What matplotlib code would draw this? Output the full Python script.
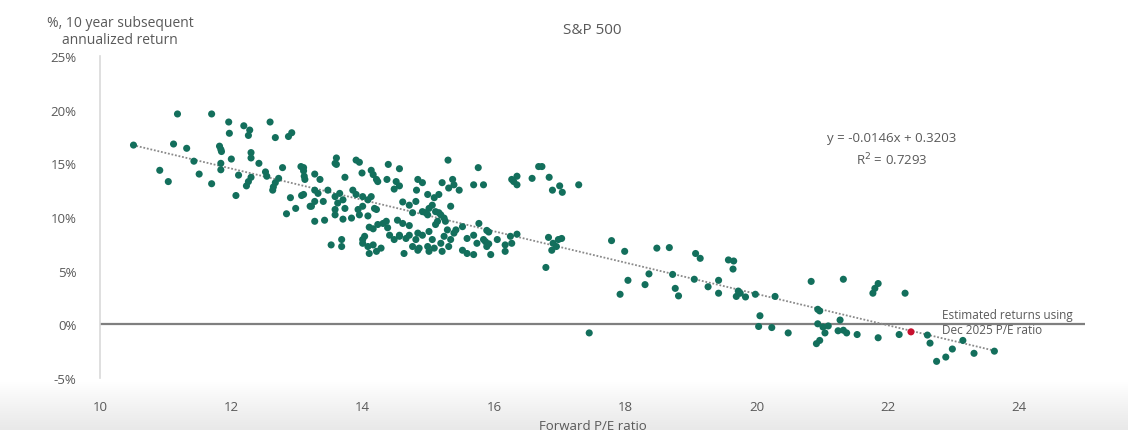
import numpy as np
import matplotlib
matplotlib.use('Agg')
import matplotlib.pyplot as plt
from matplotlib.colors import LinearSegmentedColormap

plt.rcParams['font.family'] = ['Open Sans', 'DejaVu Sans']

# forward P/E ratio and subsequent 10-year annualized return (%)
pe = [
    10.51, 10.91, 11.04, 11.12, 11.18, 11.32, 11.43, 11.51, 11.70, 11.70,
    11.82, 11.84, 11.85, 11.84, 11.84, 11.96, 11.97, 12.00, 12.07, 12.11,
    12.19, 12.28, 12.26, 12.30, 12.30, 12.42, 12.30, 12.26, 12.23, 12.52,
    12.54, 12.59, 12.67, 12.78, 12.72, 12.67, 12.64, 12.63, 12.87, 12.92,
    12.90, 12.98, 12.84, 13.07, 13.22, 13.10, 13.12,
    13.06, 13.10, 13.11, 13.27, 13.35, 13.60, 13.58, 13.60, 13.90, 13.95,
    14.39, 14.56, 15.30, 15.76, 13.73, 13.99, 14.13, 14.16, 14.21, 14.23,
    14.37, 14.51, 14.56, 14.48, 14.84, 14.91, 14.82, 15.21, 15.37, 15.39,
    15.31, 15.47, 15.69, 15.84,
    13.27, 13.32, 13.47, 13.40, 13.58, 13.65, 13.70, 13.62, 13.85, 13.90,
    14.00, 14.08, 14.13, 13.10, 13.27,
    13.20, 13.58, 13.73, 13.93, 14.00, 14.18, 13.27, 13.42, 13.58, 13.70,
    13.83, 13.95, 14.08, 14.21, 14.36, 14.53, 14.61, 14.71, 14.81, 14.91,
    14.99, 15.06, 15.11, 15.19, 15.24, 15.34, 15.14, 14.76, 14.71, 14.84,
    14.10, 14.16, 14.23, 14.31, 14.38,
    14.99, 15.09, 15.16, 15.01, 14.96, 15.16, 15.26, 15.11,
    14.00, 14.03, 14.00, 14.08, 14.16, 14.10, 14.21, 14.28, 14.41, 14.48,
    14.56, 14.66, 14.63, 14.76, 14.84, 14.99, 15.06, 15.09, 15.19, 15.24,
    15.29, 15.34, 15.42, 15.52, 15.59, 15.69, 15.74, 15.52, 15.59, 15.69,
    15.84, 15.89, 15.95, 15.92, 15.77, 13.52, 13.68, 13.68,
    14.61, 14.56, 14.71, 14.81, 14.91, 15.01, 15.39, 14.86, 15.01, 15.21,
    15.31, 16.05, 16.17, 16.17, 15.89, 15.87, 15.92,
    16.25, 16.27, 16.35, 16.83, 16.90, 16.98, 17.03, 16.88, 16.95, 16.79,
    16.30, 16.35, 16.35, 16.27, 16.58, 16.68, 16.73, 16.84, 16.89, 17.00,
    17.04, 17.29,
    17.45, 17.79, 17.99, 18.04, 17.92, 18.30, 18.36, 18.48, 18.67, 18.72,
    18.76, 18.81, 19.07, 19.14, 19.05, 19.26, 19.42, 19.42, 19.57, 19.65,
    19.64, 19.72, 19.69, 19.75, 19.83, 19.98, 20.28, 20.05, 20.03, 20.23,
    20.48, 20.83, 21.32, 21.77, 21.80, 21.85, 22.26, 20.93, 20.96, 20.93,
    21.01, 21.09, 21.04, 20.96, 20.91, 21.27, 21.24, 21.32, 21.37, 21.53,
    21.85, 22.17, 22.60, 22.64, 22.74, 22.88, 22.98, 23.14, 23.31, 23.62,
]
ret = [
    16.7, 14.35, 13.3, 16.8, 19.6, 16.4, 15.2, 14.0, 19.6, 13.1,
    16.6, 16.3, 16.1, 15.0, 14.4, 18.85, 17.8, 15.4, 12.0, 13.9,
    18.5, 18.1, 17.6, 16.0, 15.5, 15.0, 13.7, 13.3, 12.9, 14.2,
    13.8, 18.85, 17.4, 14.6, 13.6, 13.2, 12.8, 12.5, 17.5, 17.85,
    11.8, 10.8, 10.3, 12.0, 11.0, 14.6, 13.5,
    14.7, 14.3, 13.8, 14.0, 13.5, 15.5, 15.0, 14.9, 15.3, 15.1,
    14.9, 14.5, 15.3, 14.6, 13.7, 14.1, 14.35, 13.95, 13.5, 13.3,
    13.5, 13.3, 12.9, 12.6, 13.5, 13.2, 12.5, 13.2, 13.5, 13.0,
    12.7, 12.5, 13.0, 13.0,
    12.5, 12.2, 12.5, 11.45, 11.9, 12.2, 11.6, 11.3, 12.5, 12.1,
    11.9, 11.6, 11.9, 12.1, 11.45,
    11.0, 10.7, 10.8, 10.7, 11.0, 10.8, 9.6, 9.7, 10.2, 9.8,
    9.9, 10.2, 10.1, 10.7, 9.6, 9.7, 11.4, 11.1, 11.45, 10.5,
    10.2, 11.1, 10.5, 10.2, 9.9, 11.0, 9.6, 10.4, 9.2, 8.5,
    9.05, 8.9, 9.3, 9.4, 9.0,
    12.1, 11.8, 12.1, 10.8, 10.4, 10.4, 9.6, 9.3,
    7.9, 8.2, 7.55, 7.25, 7.4, 6.6, 6.8, 7.1, 8.3, 7.9,
    8.2, 8.0, 6.6, 7.25, 6.9, 7.25, 7.9, 7.1, 7.55, 8.2,
    8.8, 7.9, 8.8, 9.1, 8.0, 8.3, 7.55, 6.9, 6.6, 6.5,
    7.9, 7.25, 6.5, 8.6, 9.4, 7.4, 7.9, 7.25,
    9.4, 8.3, 8.3, 7.9, 8.3, 8.65, 8.5, 7.1, 6.8, 6.8,
    7.25, 7.9, 7.4, 6.8, 8.75, 7.7, 7.5,
    8.2, 7.55, 8.4, 8.1, 7.55, 7.9, 8.0, 6.9, 7.25, 5.3,
    13.3, 13.8, 13.0, 13.5, 13.6, 14.7, 14.7, 13.7, 12.5, 12.9,
    12.3, 13.0,
    -0.8, 7.8, 6.8, 4.1, 2.8, 3.7, 4.7, 7.1, 7.15, 4.65,
    3.35, 2.65, 6.6, 6.15, 4.2, 3.5, 4.1, 2.9, 6.0, 5.9,
    5.15, 3.1, 2.6, 2.9, 2.55, 2.8, 2.6, 0.8, -0.2, -0.3,
    -0.8, 4.0, 4.2, 2.9, 3.35, 3.8, 2.9, 1.4, 1.25, 0.05,
    -0.25, -0.15, -0.8, -1.5, -1.8, 0.4, -0.6, -0.55, -0.8, -0.95,
    -1.25, -0.95, -1.0, -1.75, -3.45, -3.05, -2.3, -1.5, -2.7, -2.5,
]

# Dec 2025 estimate
est_pe = [22.35]
est_ret = [-0.7]

# linear fit as printed on the chart (return as a fraction)
slope = -0.0146
intercept = 0.3203
r_squared = 0.7293
fit_range = [10.5, 23.65]

x_ticks = [10, 12, 14, 16, 18, 20, 22, 24]
y_ticks = [-5, 0, 5, 10, 15, 20, 25]

GREEN = '#136f5c'
TEXT = '#595959'

W, H = 1128, 431
fig = plt.figure(figsize=(W / 100, H / 100), dpi=100)

# soft grey band along the bottom edge
band = LinearSegmentedColormap.from_list('band', ['#ffffff', '#f3f3f3', '#e9e9e9'])
bg = fig.add_axes([0, 0, 1, 48 / H], zorder=-5)
grad = np.linspace(0, 1, 64).reshape(-1, 1)
bg.imshow(grad, aspect='auto', cmap=band, extent=[0, 1, 0, 1])
bg.axis('off')

ax = fig.add_axes([100 / W, 1 - 379 / H, 985 / W, 322 / H])
ax.patch.set_alpha(0)

ax.scatter(pe, ret, s=26, color=GREEN, edgecolors='none', zorder=3)
ax.scatter(est_pe, est_ret, s=26, color='#c8102e', edgecolors='none', zorder=4)

xs = np.linspace(fit_range[0], fit_range[1], 50)
ax.plot(xs, np.polyval([slope, intercept], xs) * 100, color='#8a8a8a',
        lw=1.3, ls=(0, (1, 1)), zorder=2)

ax.axhline(0, color='#7f7f7f', lw=1.6, zorder=1)

ax.set_xlim(10, 25)
ax.set_ylim(-5, 25)
ax.set_xticks(x_ticks)
ax.set_yticks(y_ticks)
ax.set_yticklabels([f'{v}%' for v in y_ticks])
ax.tick_params(length=0, labelsize=9.5, labelcolor=TEXT)
ax.tick_params(axis='x', pad=16)
ax.tick_params(axis='y', pad=17)
for side in ['top', 'right', 'bottom']:
    ax.spines[side].set_visible(False)
ax.spines['left'].set_color('#d9d9d9')
ax.spines['left'].set_linewidth(1.2)

ax.set_xlabel('Forward P/E ratio', fontsize=9.5, color=TEXT, labelpad=4)

fig.text(592 / W, 1 - 30 / H, 'S&P 500', ha='center', va='center',
         fontsize=11, color=TEXT)
fig.text(120 / W, 1 - 32 / H, '%, 10 year subsequent\nannualized return',
         ha='center', va='center', fontsize=10, color=TEXT, linespacing=1.2)

fig.text(892 / W, 1 - 139 / H, f'y = {slope}x + {intercept}',
         ha='center', va='center', fontsize=9.5, color=TEXT)
fig.text(892 / W, 1 - 160 / H, f'R$^2$ = {r_squared}',
         ha='center', va='center', fontsize=9.5, color=TEXT)

fig.text(942 / W, 1 - 323 / H, 'Estimated returns using\nDec 2025 P/E ratio',
         ha='left', va='center', fontsize=8.5, color=TEXT, linespacing=1.2)

fig.savefig('out.png', dpi=100)
